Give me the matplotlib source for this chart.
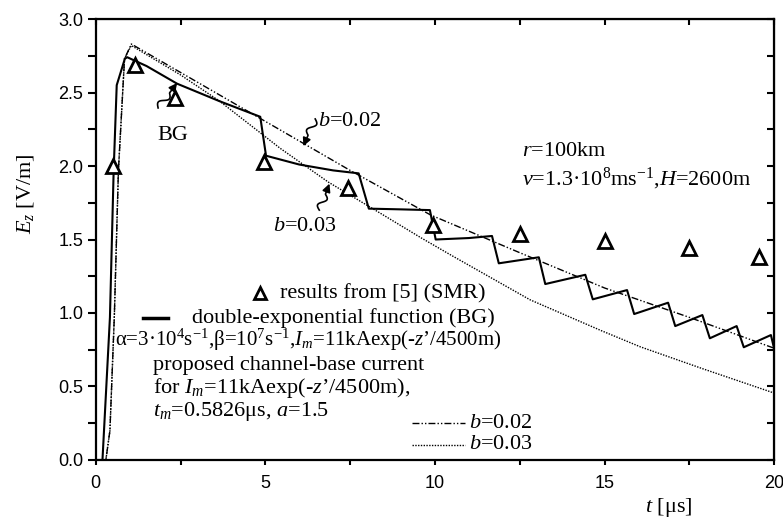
import numpy as np
import matplotlib
matplotlib.use("Agg")
import matplotlib.pyplot as plt
from matplotlib.ticker import MultipleLocator

plt.rcParams['font.family'] = ['Liberation Serif', 'DejaVu Serif']
plt.rcParams['mathtext.fontset'] = 'custom'
plt.rcParams['mathtext.rm'] = 'Liberation Serif'
plt.rcParams['mathtext.it'] = 'Liberation Serif:italic'

# --- data (t in us, Ez in V/m) ---
t_smr = [0.5, 1.15, 2.35, 4.95, 7.45, 9.95, 12.5, 15.0, 17.5, 19.55]
e_smr = [2.00, 2.69, 2.46, 2.03, 1.85, 1.60, 1.54, 1.49, 1.44, 1.38]

t_bg = [0.0, 0.2, 0.42, 0.53, 0.62, 0.86, 0.93, 1.5, 2.4, 3.66, 4.85, 5.02, 6.0, 7.0,
        7.75, 8.05, 9.0, 9.85, 10.02, 11.0, 11.68, 11.88, 13.06, 13.25, 14.43, 14.65,
        15.66, 15.87, 16.87, 17.08, 17.88, 18.1, 18.89, 19.1, 19.9, 20.0]
e_bg = [0.0, 0.0, 0.97, 1.97, 2.55, 2.73, 2.74, 2.68, 2.56, 2.44, 2.335, 2.07, 2.01, 1.97,
        1.95, 1.71, 1.705, 1.70, 1.50, 1.51, 1.524, 1.338, 1.379, 1.197, 1.26, 1.093,
        1.156, 0.993, 1.07, 0.911, 0.986, 0.828, 0.911, 0.767, 0.85, 0.753]

t_b02 = [0.0, 0.3, 0.42, 0.55, 0.67, 0.85, 1.05, 3.0, 5.44, 7.5, 9.87, 12.5, 15.0, 17.5, 20.0]
e_b02 = [0.0, 0.0, 0.2, 0.98, 1.97, 2.73, 2.83, 2.57, 2.245, 1.97, 1.667, 1.41, 1.17, 0.97, 0.76]

t_b03 = [0.0, 0.3, 0.42, 0.55, 0.67, 0.85, 1.05, 2.5, 3.66, 5.44, 6.86, 8.38, 9.6, 10.5,
         12.8, 14.9, 16.05, 17.9, 20.0]
e_b03 = [0.0, 0.0, 0.2, 0.98, 1.97, 2.73, 2.82, 2.62, 2.44, 2.12, 1.89, 1.68, 1.51, 1.39,
         1.09, 0.88, 0.77, 0.62, 0.455]

fig = plt.figure(figsize=(7.83, 5.21), dpi=100)
ax = fig.add_axes([0.1222, 0.1171, 0.8667, 0.8464])

ax.plot(t_bg, e_bg, color='k', lw=1.5)
ax.plot(t_b02, e_b02, color='k', lw=1.0, ls=(0, (5, 1.5, 1, 1.5, 1, 1.5)))
ax.plot(t_b03, e_b03, color='k', lw=1.0, ls=(0, (1, 1)))
ax.plot(t_smr, e_smr, ls='none', marker='^', ms=10, mfc='white', mec='k', mew=2)

ax.set_xlim(0, 20)
ax.set_ylim(0, 3.0)
ax.xaxis.set_major_locator(MultipleLocator(5))
ax.xaxis.set_minor_locator(MultipleLocator(2.5))
ax.yaxis.set_major_locator(MultipleLocator(0.5))
ax.yaxis.set_minor_locator(MultipleLocator(0.25))
ax.set_yticks(np.arange(0, 3.01, 0.5))
ax.set_yticklabels([f"{v:.1f}" for v in np.arange(0, 3.01, 0.5)])

for s in ax.spines.values():
    s.set_linewidth(1.6)
ax.tick_params(axis='y', which='both', direction='out', length=6, width=1.5, pad=3,
               labelsize=13, labelfontfamily='Liberation Sans')
ax.tick_params(axis='x', which='both', direction='out', length=3.6, width=1.5, pad=7,
               labelsize=13, labelfontfamily='Liberation Sans')

# top and right ticks point inward
top = ax.secondary_xaxis('top')
top.xaxis.set_major_locator(MultipleLocator(2.5))
top.tick_params(direction='in', length=4.5, width=1.5, labeltop=False)
right = ax.secondary_yaxis('right')
right.yaxis.set_major_locator(MultipleLocator(0.25))
right.tick_params(direction='in', length=5, width=1.5, labelright=False)

ax.set_ylabel('$E_z$ [V/m]', fontsize=16)
ax.yaxis.set_label_coords(-0.088, 0.605)
ax.set_xlabel('$t$ [μs]', fontsize=16)
ax.xaxis.set_label_coords(0.845, -0.082)


def squiggle(start, end, amp=3.5):
    # wavy leader line ending in an arrowhead, built in pixel space
    p0 = ax.transData.transform(start)
    p1 = ax.transData.transform(end)
    d = p1 - p0
    n = np.array([-d[1], d[0]]) / np.hypot(*d)
    s = np.linspace(0, 1, 60)
    w = amp * np.sin(2 * np.pi * s / 0.6) * (s < 0.6)
    pts = p0 + np.outer(s, d) + np.outer(w, n)
    dat = ax.transData.inverted().transform(pts)
    ax.plot(dat[:-8, 0], dat[:-8, 1], color='k', lw=1.2)
    ax.annotate('', xy=end, xytext=tuple(dat[-9]),
                arrowprops=dict(arrowstyle='-|>', color='k', lw=1.2,
                                mutation_scale=12, shrinkA=0, shrinkB=0))


fs = 16
ax.text(1.81, 2.21, 'BG', fontsize=fs, va='center')
squiggle((1.84, 2.395), (2.40, 2.565))
ax.text(6.56, 2.30, '$b$=0.02', fontsize=fs, va='center')
squiggle((6.47, 2.32), (6.12, 2.135))
ax.text(5.24, 1.587, '$b$=0.03', fontsize=fs, va='center')
squiggle((6.59, 1.70), (6.89, 1.88))

ax.text(12.57, 2.10, '$r$=100km', fontsize=fs, va='center')
ax.text(12.57, 1.915, '$v$=1.3·10$^8$ms$^{-1}$,$H$=2600m', fontsize=fs, va='center')

# key drawn by hand
ax.plot([4.85], [1.134], ls='none', marker='^', ms=8, mfc='white', mec='k', mew=2)
ax.text(5.44, 1.134, 'results from [5] (SMR)', fontsize=fs, va='center')
ax.plot([1.40, 2.14], [0.964, 0.964], color='k', lw=2.5)
ax.text(2.83, 0.964, 'double-exponential function (BG)', fontsize=fs, va='center')
ax.text(0.57, 0.816, 'α=3·10$^4$s$^{-1}$,β=10$^7$s$^{-1}$,$I_m$=11kAexp(-$z$’/4500m)',
        fontsize=15, va='center')
ax.text(1.70, 0.646, 'proposed channel-base current', fontsize=fs, va='center')
ax.text(1.70, 0.488, 'for $I_m$=11kAexp(-$z$’/4500m),', fontsize=fs, va='center')
ax.text(1.70, 0.329, '$t_m$=0.5826μs, $a$=1.5', fontsize=fs, va='center')
ax.plot([9.32, 10.89], [0.249, 0.249], color='k', lw=1.0, ls=(0, (5, 1.5, 1, 1.5, 1, 1.5)))
ax.text(10.99, 0.249, '$b$=0.02', fontsize=fs, va='center')
ax.plot([9.32, 10.89], [0.102, 0.102], color='k', lw=1.0, ls=(0, (1, 1)))
ax.text(10.99, 0.102, '$b$=0.03', fontsize=fs, va='center')

fig.savefig('out.png', dpi=100)
